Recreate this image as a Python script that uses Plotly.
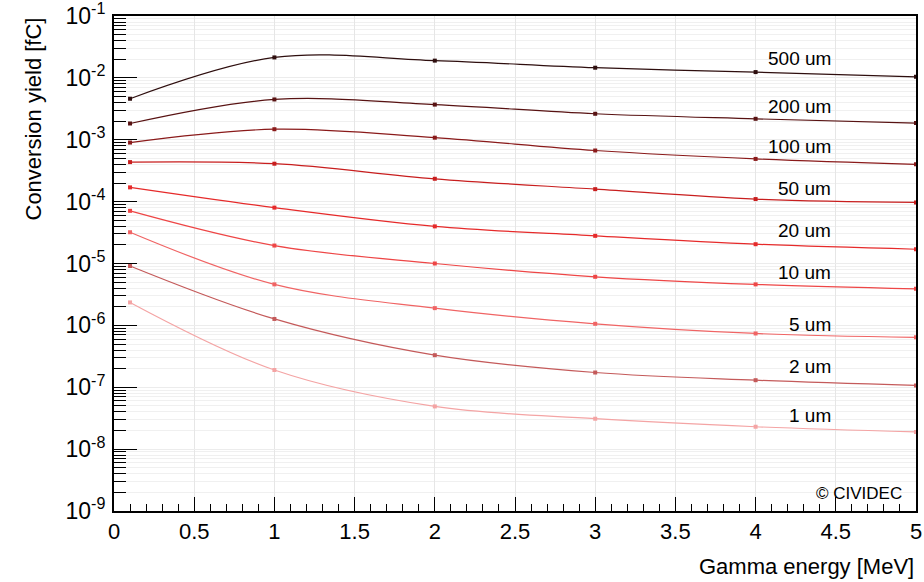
import numpy as np
import plotly.graph_objects as go

# Gamma energy sample points [MeV]
energy = [0.1, 1, 2, 3, 4, 5]

# Conversion yield [fC] for each sensor thickness
yield_500um = [4.6e-3, 2.14e-2, 1.9e-2, 1.46e-2, 1.24e-2, 1.04e-2]
yield_200um = [1.83e-3, 4.48e-3, 3.7e-3, 2.63e-3, 2.18e-3, 1.86e-3]
yield_100um = [9.0e-4, 1.48e-3, 1.08e-3, 6.7e-4, 4.9e-4, 4.0e-4]
yield_50um = [4.35e-4, 4.1e-4, 2.34e-4, 1.59e-4, 1.1e-4, 9.7e-5]
yield_20um = [1.7e-4, 8.0e-5, 3.98e-5, 2.8e-5, 2.05e-5, 1.7e-5]
yield_10um = [7.1e-5, 1.95e-5, 1.0e-5, 6.1e-6, 4.6e-6, 3.9e-6]
yield_5um = [3.2e-5, 4.6e-6, 1.9e-6, 1.06e-6, 7.4e-7, 6.4e-7]
yield_2um = [9.1e-6, 1.27e-6, 3.3e-7, 1.73e-7, 1.3e-7, 1.07e-7]
yield_1um = [2.35e-6, 1.9e-7, 4.9e-8, 3.1e-8, 2.3e-8, 1.9e-8]

thickness_labels = ["500 um", "200 um", "100 um", "50 um", "20 um",
                    "10 um", "5 um", "2 um", "1 um"]
series = [yield_500um, yield_200um, yield_100um, yield_50um, yield_20um,
          yield_10um, yield_5um, yield_2um, yield_1um]
colors = ["#2e0e0e", "#581212", "#8a1a1a", "#c81e1e", "#e62a2a",
          "#ee4646", "#f06464", "#c45a5a", "#f4a4a4"]
# label anchor heights (log10 of yield) and x position
label_logy = [-1.682, -2.462, -3.108, -3.792, -4.465, -5.139, -5.989, -6.662, -7.455]
label_x = 4.48

# x-axis tick labels
x_tickvals = [0, 0.5, 1, 1.5, 2, 2.5, 3, 3.5, 4, 4.5, 5]
x_ticktext = ["0", "0.5", "1", "1.5", "2", "2.5", "3", "3.5", "4", "4.5", "5"]

FONT = "Liberation Sans, Arial, Helvetica, sans-serif"

fig = go.Figure()
for vals, col, name in zip(series, colors, thickness_labels):
    fig.add_trace(go.Scatter(
        x=energy, y=vals, mode="lines+markers", name=name,
        line=dict(color=col, width=1.2, shape="spline", smoothing=1.0),
        marker=dict(symbol="square", size=4, color=col),
        showlegend=False,
    ))

for name, ly in zip(thickness_labels, label_logy):
    fig.add_annotation(x=label_x, y=ly, xref="x", yref="y", text=name,
                       showarrow=False, xanchor="right", yanchor="middle",
                       font=dict(family=FONT, size=19, color="black"))

decades = list(range(-9, 0))
major_vals = [10.0 ** d for d in decades]
major_text = ["10<sup>%d</sup>" % d for d in decades]
minor_vals = [k * 10.0 ** d for d in decades[:-1] for k in range(2, 10)]

fig.update_xaxes(
    range=[0, 5], tickmode="array", tickvals=x_tickvals, ticktext=x_ticktext,
    tickangle=0, automargin=False, ticklabeloverflow="allow",
    showline=True, linecolor="black", linewidth=2, mirror=True,
    ticks="inside", ticklen=14, tickwidth=1.3, tickcolor="black",
    tickfont=dict(family=FONT, size=22, color="black"),
    showgrid=True, gridcolor="#e6e6e6", gridwidth=1, zeroline=False,
    minor=dict(dtick=0.1, tick0=0, ticks="inside", ticklen=7,
               tickwidth=1.3, tickcolor="black", showgrid=False),
)
fig.update_yaxes(
    type="log", range=[-9, -1], automargin=False, ticklabeloverflow="allow",
    tickmode="array", tickvals=major_vals, ticktext=major_text,
    showline=True, linecolor="black", linewidth=2, mirror=True,
    ticks="inside", ticklen=23, tickwidth=1.3, tickcolor="black",
    tickfont=dict(family=FONT, size=23, color="black"),
    ticklabelstandoff=2,
    showgrid=True, gridcolor="#ececec", gridwidth=1, zeroline=False,
    minor=dict(tickmode="array", tickvals=minor_vals, ticks="inside",
               ticklen=12, tickwidth=1.3, tickcolor="black",
               showgrid=True, gridcolor="#f0f0f0", gridwidth=1),
)

# axis titles (right-aligned x title, top-aligned y title)
fig.add_annotation(x=1, y=0, xref="paper", yref="paper", yshift=-55,
                   text="Gamma energy [MeV]", showarrow=False,
                   xanchor="right", yanchor="middle",
                   font=dict(family=FONT, size=22, color="black"))
fig.add_annotation(x=0, y=1, xref="paper", yref="paper", xshift=-81,
                   text="Conversion yield [fC]", showarrow=False,
                   textangle=-90, xanchor="center", yanchor="top",
                   font=dict(family=FONT, size=22, color="black"))
fig.add_annotation(x=0.985, y=0.036, xref="paper", yref="paper",
                   text="© CIVIDEC", showarrow=False,
                   xanchor="right", yanchor="middle",
                   font=dict(family=FONT, size=17, color="black"))

fig.update_layout(
    width=924, height=582,
    margin=dict(l=114, r=8, t=16, b=71),
    paper_bgcolor="white", plot_bgcolor="white",
    font=dict(family=FONT, color="black"),
)

fig.write_html("out.html")
